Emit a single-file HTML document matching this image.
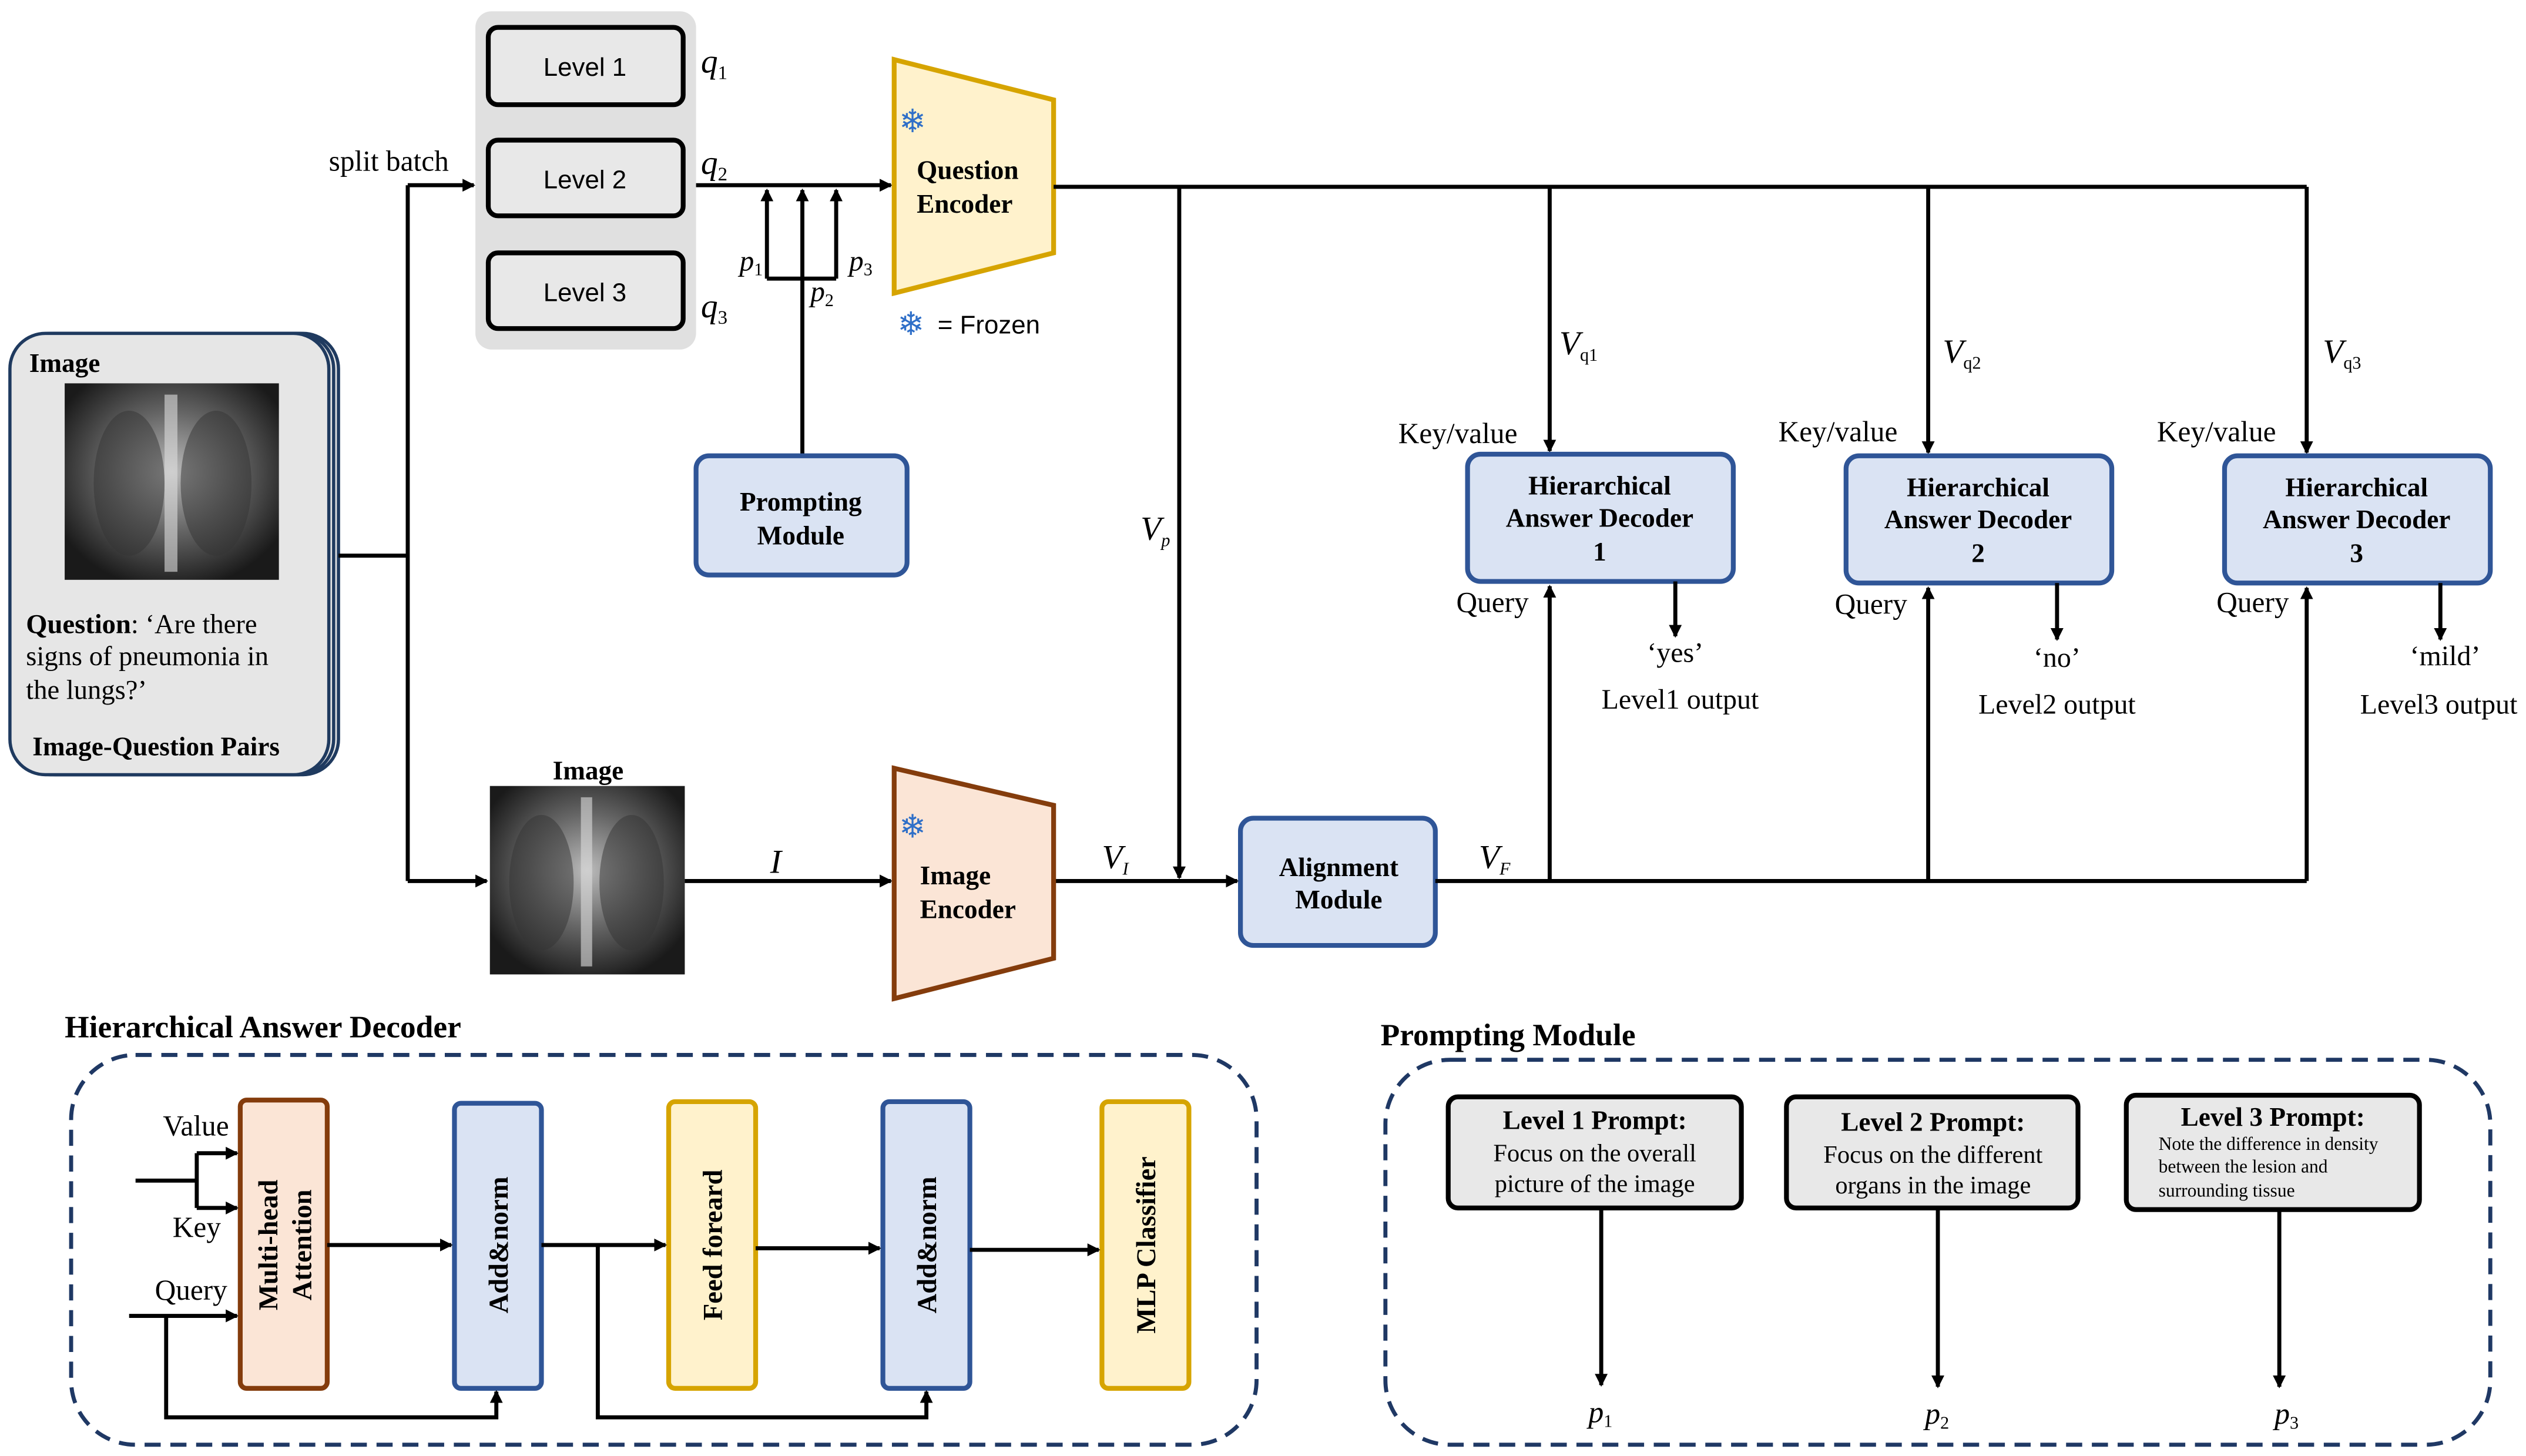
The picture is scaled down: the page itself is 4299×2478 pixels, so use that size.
<!DOCTYPE html>
<html><head><meta charset="utf-8"><style>html,body{margin:0;padding:0;background:#fff}svg{display:block}</style></head>
<body>
<svg xmlns="http://www.w3.org/2000/svg" width="4299" height="2478" viewBox="0 0 1568 904" font-family="Liberation Serif, serif">
<defs>
<marker id="a" markerWidth="8" markerHeight="8" refX="7" refY="4" orient="auto" markerUnits="userSpaceOnUse"><path d="M0,0 L8,4 L0,8 z" fill="#000"/></marker>
<radialGradient id="x" cx="50%" cy="45%" r="60%"><stop offset="0" stop-color="#bbb"/><stop offset="0.5" stop-color="#666"/><stop offset="1" stop-color="#1a1a1a"/></radialGradient>
</defs>
<rect width="1568" height="904" fill="#fff"/>
<g stroke="#1f3a5f" stroke-width="2" fill="#e6e6e6">
<rect x="12" y="207" width="198" height="274" rx="22"/>
<rect x="9" y="207" width="198" height="274" rx="22"/>
<rect x="6" y="207" width="198" height="274" rx="22"/>
</g>
<rect x="40" y="238" width="133" height="122" fill="url(#x)"/>
<ellipse cx="80" cy="300" rx="22" ry="45" fill="#333" opacity="0.5"/>
<ellipse cx="134" cy="300" rx="22" ry="45" fill="#333" opacity="0.5"/>
<path d="M106,245 L106,355" stroke="#ddd" stroke-width="8" opacity="0.6"/>
<text x="18" y="231" font-size="16.5" font-weight="bold">Image</text>
<text x="16" y="393" font-size="17"><tspan font-weight="bold">Question</tspan>: ‘Are there</text>
<text x="16" y="413" font-size="17">signs of pneumonia in</text>
<text x="16" y="434" font-size="17">the lungs?’</text>
<text x="20" y="469" font-size="16.5" font-weight="bold">Image-Question Pairs</text>
<g stroke="#000" stroke-width="2.5" fill="none">
<path d="M210,345 H253 M253,115 V547"/>
<path d="M253,115 H294" marker-end="url(#a)"/>
<path d="M253,547 H302" marker-end="url(#a)"/>
</g>
<text x="204" y="106" font-size="18">split batch</text>
<rect x="295" y="7" width="137" height="210" rx="10" fill="#e0e0e0"/>
<g stroke="#000" stroke-width="3" fill="#e8e8e8">
<rect x="303" y="17" width="121" height="48" rx="6"/>
<rect x="303" y="87" width="121" height="47" rx="6"/>
<rect x="303" y="157" width="121" height="47" rx="6"/>
</g>
<g font-family="Liberation Sans, sans-serif" font-size="16" text-anchor="middle">
<text x="363" y="47">Level 1</text><text x="363" y="117">Level 2</text><text x="363" y="187">Level 3</text>
</g>
<g font-size="21" font-style="italic">
<text x="435" y="45">q<tspan font-size="12" dy="4" font-style="normal">1</tspan></text>
<text x="435" y="108">q<tspan font-size="12" dy="4" font-style="normal">2</tspan></text>
<text x="435" y="197">q<tspan font-size="12" dy="4" font-style="normal">3</tspan></text>
</g>
<g stroke="#000" stroke-width="2.5" fill="none">
<path d="M432,115 H553" marker-end="url(#a)"/>
<path d="M476,173 V118" marker-end="url(#a)"/>
<path d="M519,173 V118" marker-end="url(#a)"/>
<path d="M498,283 V118" marker-end="url(#a)"/>
<path d="M476,173 H519"/>
</g>
<g font-size="18" font-style="italic">
<text x="459" y="168">p<tspan font-size="11" dy="3" font-style="normal">1</tspan></text>
<text x="503" y="187">p<tspan font-size="11" dy="3" font-style="normal">2</tspan></text>
<text x="527" y="168">p<tspan font-size="11" dy="3" font-style="normal">3</tspan></text>
</g>
<polygon points="555,37 654,62 654,157 555,182" fill="#fff2cc" stroke="#d6a400" stroke-width="3"/>
<text x="569" y="111" font-size="16.5" font-weight="bold">Question</text>
<text x="569" y="132" font-size="16.5" font-weight="bold">Encoder</text>
<text x="558" y="82" font-size="20" fill="#2f6fc8">❄</text>
<text x="557" y="208" font-size="20" fill="#2f6fc8">❄</text>
<text x="582" y="207" font-size="16" font-family="Liberation Sans, sans-serif">= Frozen</text>
<g stroke="#000" stroke-width="2.5" fill="none">
<path d="M654,116 H1432"/>
<path d="M732,116 V545" marker-end="url(#a)"/>
<path d="M962,116 V280" marker-end="url(#a)"/>
<path d="M1197,116 V281" marker-end="url(#a)"/>
<path d="M1432,116 V281" marker-end="url(#a)"/>
</g>
<g font-size="21" font-style="italic">
<text x="968" y="220">V<tspan font-size="11" dy="4" font-style="normal">q1</tspan></text>
<text x="1206" y="225">V<tspan font-size="11" dy="4" font-style="normal">q2</tspan></text>
<text x="1442" y="225">V<tspan font-size="11" dy="4" font-style="normal">q3</tspan></text>
<text x="708" y="335">V<tspan font-size="11" dy="4">p</tspan></text>
<text x="684" y="539">V<tspan font-size="11" dy="4">I</tspan></text>
<text x="918" y="539">V<tspan font-size="11" dy="4">F</tspan></text>
<text x="478" y="542">I</text>
</g>
<g fill="#dae3f3" stroke="#2f5597" stroke-width="3">
<rect x="432" y="283" width="131" height="74" rx="8"/>
<rect x="911" y="282" width="165" height="79" rx="8"/>
<rect x="1146" y="283" width="165" height="79" rx="8"/>
<rect x="1381" y="283" width="165" height="79" rx="8"/>
<rect x="770" y="508" width="121" height="79" rx="8"/>
</g>
<g font-size="16.5" font-weight="bold" text-anchor="middle">
<text x="497" y="317">Prompting</text><text x="497" y="338">Module</text>
<text x="993" y="307">Hierarchical</text><text x="993" y="327">Answer Decoder</text><text x="993" y="348">1</text>
<text x="1228" y="308">Hierarchical</text><text x="1228" y="328">Answer Decoder</text><text x="1228" y="349">2</text>
<text x="1463" y="308">Hierarchical</text><text x="1463" y="328">Answer Decoder</text><text x="1463" y="349">3</text>
<text x="831" y="544">Alignment</text><text x="831" y="564">Module</text>
</g>
<g font-size="18">
<text x="868" y="275">Key/value</text><text x="1104" y="274">Key/value</text><text x="1339" y="274">Key/value</text>
<text x="904" y="380">Query</text><text x="1139" y="381">Query</text><text x="1376" y="380">Query</text>
</g>
<g font-size="17.5" text-anchor="middle">
<text x="1040" y="411">‘yes’</text><text x="1043" y="440">Level1 output</text>
<text x="1277" y="414">‘no’</text><text x="1277" y="443">Level2 output</text>
<text x="1518" y="413">‘mild’</text><text x="1514" y="443">Level3 output</text>
</g>
<g stroke="#000" stroke-width="2.5" fill="none">
<path d="M1040,361 V395" marker-end="url(#a)"/>
<path d="M1277,362 V397" marker-end="url(#a)"/>
<path d="M1515,362 V397" marker-end="url(#a)"/>
<path d="M425,547 H553" marker-end="url(#a)"/>
<path d="M654,547 H768" marker-end="url(#a)"/>
<path d="M891,547 H1432"/>
<path d="M962,547 V364" marker-end="url(#a)"/>
<path d="M1197,547 V365" marker-end="url(#a)"/>
<path d="M1432,547 V365" marker-end="url(#a)"/>
</g>
<text x="365" y="484" font-size="16.5" font-weight="bold" text-anchor="middle">Image</text>
<rect x="304" y="488" width="121" height="117" fill="url(#x)"/>
<ellipse cx="336" cy="548" rx="20" ry="42" fill="#333" opacity="0.5"/>
<ellipse cx="392" cy="548" rx="20" ry="42" fill="#333" opacity="0.5"/>
<path d="M364,495 L364,600" stroke="#ddd" stroke-width="7" opacity="0.6"/>
<polygon points="555,477 654,500 654,595 555,620" fill="#fbe5d6" stroke="#843c0c" stroke-width="3"/>
<text x="571" y="549" font-size="16.5" font-weight="bold">Image</text>
<text x="571" y="570" font-size="16.5" font-weight="bold">Encoder</text>
<text x="558" y="520" font-size="20" fill="#2f6fc8">❄</text>
<text x="40" y="644" font-size="19.5" font-weight="bold">Hierarchical Answer Decoder</text>
<rect x="44" y="655" width="736" height="242" rx="40" fill="none" stroke="#1f3864" stroke-width="2.5" stroke-dasharray="10,6"/>
<rect x="149" y="683" width="54" height="179" rx="4" fill="#fbe5d6" stroke="#843c0c" stroke-width="3"/>
<rect x="282" y="685" width="54" height="177" rx="4" fill="#dae3f3" stroke="#2f5597" stroke-width="3"/>
<rect x="415" y="684" width="54" height="178" rx="4" fill="#fff2cc" stroke="#d6a400" stroke-width="3"/>
<rect x="548" y="684" width="54" height="178" rx="4" fill="#dae3f3" stroke="#2f5597" stroke-width="3"/>
<rect x="684" y="684" width="54" height="178" rx="4" fill="#fff2cc" stroke="#d6a400" stroke-width="3"/>
<g font-size="17" font-weight="bold" text-anchor="middle">
<text transform="translate(172,773) rotate(-90)">Multi-head</text>
<text transform="translate(193,773) rotate(-90)">Attention</text>
<text transform="translate(315,773) rotate(-90)">Add&amp;norm</text>
<text transform="translate(448,773) rotate(-90)">Feed foreard</text>
<text transform="translate(581,773) rotate(-90)">Add&amp;norm</text>
<text transform="translate(717,773) rotate(-90)">MLP Classifier</text>
</g>
<g font-size="18"><text x="101" y="705">Value</text><text x="107" y="768">Key</text><text x="96" y="807">Query</text></g>
<g stroke="#000" stroke-width="2.5" fill="none">
<path d="M84,733 H122 M122,716 V750"/>
<path d="M122,716 H147" marker-end="url(#a)"/>
<path d="M122,750 H147" marker-end="url(#a)"/>
<path d="M80,817 H147" marker-end="url(#a)"/>
<path d="M103,817 V880 H308 V864" marker-end="url(#a)"/>
<path d="M203,773 H280" marker-end="url(#a)"/>
<path d="M336,773 H413" marker-end="url(#a)"/>
<path d="M371,773 V880 H575 V864" marker-end="url(#a)"/>
<path d="M469,775 H546" marker-end="url(#a)"/>
<path d="M602,776 H682" marker-end="url(#a)"/>
</g>
<text x="857" y="649" font-size="19.5" font-weight="bold">Prompting Module</text>
<rect x="860" y="658" width="686" height="239" rx="40" fill="none" stroke="#1f3864" stroke-width="2.5" stroke-dasharray="10,6"/>
<g stroke="#000" stroke-width="3" fill="#e8e8e8">
<rect x="899" y="681" width="182" height="69" rx="6"/>
<rect x="1109" y="681" width="181" height="69" rx="6"/>
<rect x="1320" y="680" width="182" height="71" rx="6"/>
</g>
<g text-anchor="middle">
<text x="990" y="701" font-size="16.5" font-weight="bold">Level 1 Prompt:</text>
<text x="990" y="721" font-size="15.5">Focus on the overall</text>
<text x="990" y="740" font-size="15.5">picture of the image</text>
<text x="1200" y="702" font-size="16.5" font-weight="bold">Level 2 Prompt:</text>
<text x="1200" y="722" font-size="15.5">Focus on the different</text>
<text x="1200" y="741" font-size="15.5">organs in the image</text>
<text x="1411" y="699" font-size="16.5" font-weight="bold">Level 3 Prompt:</text>
</g>
<g font-size="11.5"><text x="1340" y="714">Note the difference in density</text><text x="1340" y="728">between the lesion and</text><text x="1340" y="743">surrounding tissue</text></g>
<g stroke="#000" stroke-width="2.5" fill="none">
<path d="M994,750 V860" marker-end="url(#a)"/>
<path d="M1203,750 V861" marker-end="url(#a)"/>
<path d="M1415,751 V861" marker-end="url(#a)"/>
</g>
<g font-size="19" font-style="italic">
<text x="986" y="883">p<tspan font-size="11" dy="3" font-style="normal">1</tspan></text>
<text x="1195" y="884">p<tspan font-size="11" dy="3" font-style="normal">2</tspan></text>
<text x="1412" y="884">p<tspan font-size="11" dy="3" font-style="normal">3</tspan></text>
</g>
</svg>
</body></html>
